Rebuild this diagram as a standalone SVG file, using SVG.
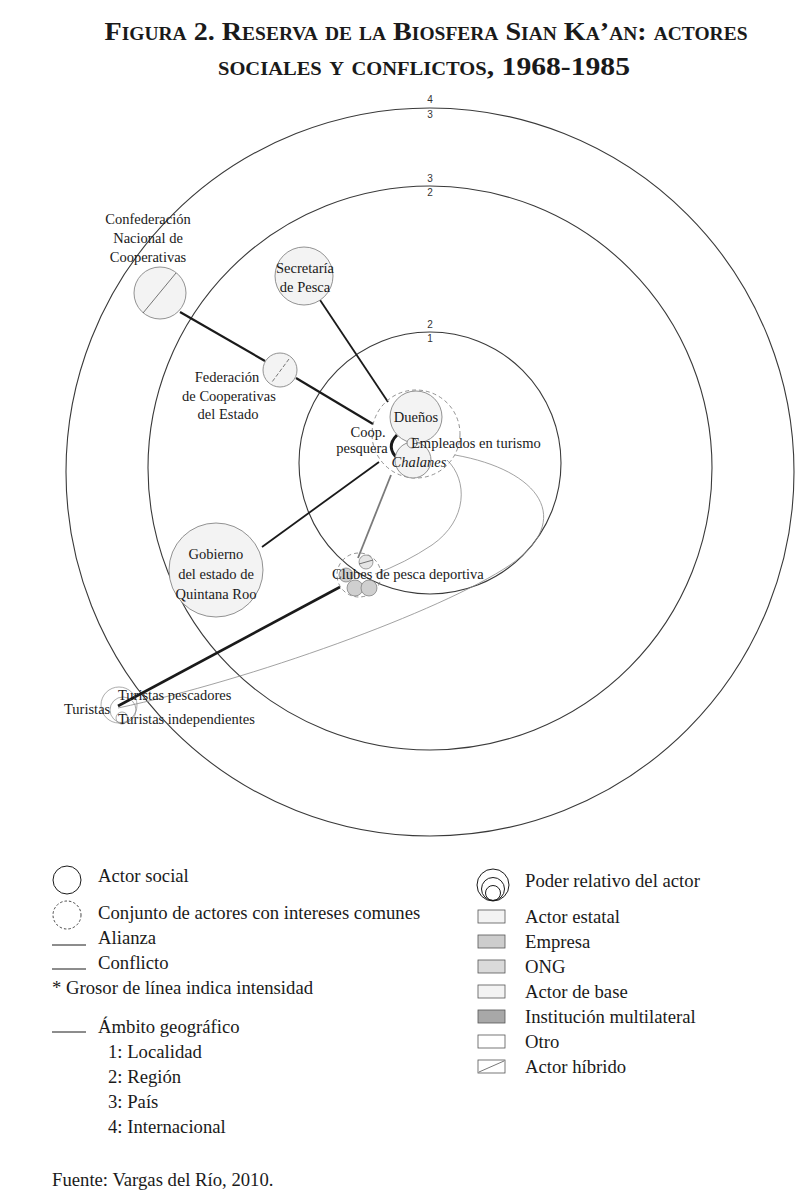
<svg xmlns="http://www.w3.org/2000/svg" width="811" height="1195" viewBox="0 0 811 1195">
<style>
 .t{font-family:"Liberation Serif","Times New Roman",serif;font-size:14.5px;fill:#1a1a1a}
 .c{text-anchor:middle}
 .lg{font-family:"Liberation Serif","Times New Roman",serif;font-size:18.7px;fill:#1a1a1a}
 .ttl{font-family:"Liberation Serif","Times New Roman",serif;font-size:26px;font-weight:bold;font-variant:small-caps;fill:#1a1a1a;text-anchor:middle}
 .ring{fill:none;stroke:#3a3a3a;stroke-width:1.1}
 .rn{font-family:"Liberation Sans",Arial,sans-serif;font-size:10px;fill:#333;text-anchor:middle}
 .node{fill:#f3f3f3;stroke:#777;stroke-width:0.8}
 .grp{fill:none;stroke:#777;stroke-width:0.8;stroke-dasharray:4 3}
 .hy{stroke:#555;stroke-width:0.8;fill:none}
 .thin{fill:none;stroke:#8a8a8a;stroke-width:0.8}
 .ln{stroke:#1a1a1a;fill:none}
 .sw{stroke:#1a1a1a;stroke-width:1}
</style>
<rect width="811" height="1195" fill="#ffffff"/>

<g id="title">
 <text class="ttl" x="426" y="40" textLength="643" lengthAdjust="spacingAndGlyphs">Figura 2. Reserva de la Biosfera Sian Ka’an: actores</text>
 <text class="ttl" x="424" y="75" textLength="412" lengthAdjust="spacingAndGlyphs">sociales y conflictos, 1968-1985</text>
</g>

<g id="rings">
 <circle class="ring" cx="430" cy="472" r="364"/>
 <circle class="ring" cx="430" cy="468" r="282"/>
 <circle class="ring" cx="430" cy="463" r="131"/>
 <text class="rn" x="430" y="103">4</text>
 <text class="rn" x="430" y="118">3</text>
 <text class="rn" x="430" y="182">3</text>
 <text class="rn" x="430" y="196">2</text>
 <text class="rn" x="430" y="328">2</text>
 <text class="rn" x="430" y="342">1</text>
</g>

<g id="connectors">
 <line class="ln" x1="180" y1="312" x2="265" y2="361" stroke-width="2.2"/>
 <line class="ln" x1="296" y1="378" x2="373" y2="424" stroke-width="2.2"/>
 <line class="ln" x1="320" y1="300" x2="388" y2="402" stroke-width="1.8"/>
 <line class="ln" x1="262" y1="547" x2="379" y2="462" stroke-width="1.8"/>
 <line class="ln" x1="118" y1="706" x2="340" y2="587" stroke-width="2.6"/>
 <line x1="391" y1="475" x2="358" y2="558" stroke="#7a7a7a" stroke-width="1.8"/>
 <path class="ln" d="M397,435 Q385,447 398,459" stroke-width="3"/>
 <path class="thin" d="M447,460 C468,480 468,520 432,545 Q405,563 375,574"/>
 <path class="thin" d="M455,455 C540,470 575,520 510,565 C440,612 250,680 118,708"/>
</g>

<g id="n-confederacion">
 <circle class="node" cx="160" cy="293" r="26"/>
 <line class="hy" x1="176" y1="273" x2="143" y2="313"/>
 <text class="t c" x="148" y="224">Confederación</text>
 <text class="t c" x="148" y="243">Nacional de</text>
 <text class="t c" x="148" y="262">Cooperativas</text>
</g>

<g id="n-secretaria">
 <circle class="node" cx="304" cy="276" r="29"/>
 <text class="t c" x="305" y="273">Secretaría</text>
 <text class="t c" x="305" y="292">de Pesca</text>
</g>

<g id="n-federacion">
 <circle class="node" cx="280" cy="370" r="17"/>
 <line class="hy" x1="289" y1="359" x2="272" y2="382" stroke-dasharray="4 2"/>
 <text class="t c" x="227" y="382">Federación</text>
 <text class="t c" x="229" y="401">de Cooperativas</text>
 <text class="t c" x="228" y="419">del Estado</text>
</g>

<g id="n-coop">
 <circle class="grp" cx="416" cy="434" r="44"/>
 <circle class="node" cx="416" cy="417" r="26"/>
 <circle class="node" cx="413" cy="460" r="18"/>
 <circle class="node" cx="412" cy="443" r="5"/>
 <text class="t c" x="416" y="422">Dueños</text>
 <text class="t c" x="419" y="467" font-style="italic">Chalanes</text>
 <text class="t" x="411" y="448">Empleados en turismo</text>
 <text class="t c" x="368" y="437">Coop.</text>
 <text class="t c" x="362" y="453">pesquera</text>
</g>

<g id="n-gobierno">
 <circle class="node" cx="216" cy="570" r="47"/>
 <text class="t c" x="216" y="559">Gobierno</text>
 <text class="t c" x="216" y="579">del estado de</text>
 <text class="t c" x="216" y="599">Quintana Roo</text>
</g>

<g id="n-clubes">
 <circle class="grp" cx="359" cy="575" r="22"/>
 <circle cx="346" cy="575" r="7" fill="#cfcfcf" stroke="#777" stroke-width="0.7"/>
 <circle cx="355" cy="588" r="8" fill="#cfcfcf" stroke="#777" stroke-width="0.7"/>
 <circle cx="369" cy="588" r="8" fill="#cfcfcf" stroke="#777" stroke-width="0.7"/>
 <circle cx="366" cy="562" r="7" fill="#e6e6e6" stroke="#777" stroke-width="0.7"/>
 <line class="hy" x1="359" y1="564" x2="373" y2="560"/>
 <text class="t" x="332" y="579">Clubes de pesca deportiva</text>
</g>

<g id="n-turistas">
 <circle cx="119" cy="705" r="18" fill="none" stroke="#888" stroke-width="0.7"/>
 <circle cx="123" cy="710" r="13" fill="none" stroke="#888" stroke-width="0.7"/>
 <circle cx="122" cy="718" r="6" fill="none" stroke="#888" stroke-width="0.7"/>
 <text class="t" x="64" y="714">Turistas</text>
 <text class="t" x="118" y="700">Turistas pescadores</text>
 <text class="t" x="118" y="724">Turistas independientes</text>
</g>

<g id="legend-left">
 <circle cx="67" cy="880" r="14" fill="none" stroke="#1a1a1a" stroke-width="1"/>
 <text class="lg" x="98" y="882">Actor social</text>
 <circle cx="67" cy="915" r="14" fill="none" stroke="#1a1a1a" stroke-width="0.8" stroke-dasharray="2.5 2"/>
 <text class="lg" x="98" y="919">Conjunto de actores con intereses comunes</text>
 <line class="sw" x1="52" y1="945" x2="86" y2="945"/>
 <text class="lg" x="98" y="944">Alianza</text>
 <line class="sw" x1="52" y1="969" x2="86" y2="969"/>
 <text class="lg" x="98" y="969">Conflicto</text>
 <text class="lg" x="52" y="994">* Grosor de línea indica intensidad</text>
 <line class="sw" x1="52" y1="1032" x2="86" y2="1032"/>
 <text class="lg" x="98" y="1033">Ámbito geográfico</text>
 <text class="lg" x="108" y="1058">1: Localidad</text>
 <text class="lg" x="108" y="1083">2: Región</text>
 <text class="lg" x="108" y="1108">3: País</text>
 <text class="lg" x="108" y="1133">4: Internacional</text>
</g>

<g id="legend-right">
 <circle cx="493" cy="885" r="16" fill="none" stroke="#1a1a1a" stroke-width="1"/>
 <circle cx="493" cy="889" r="11.5" fill="none" stroke="#1a1a1a" stroke-width="1"/>
 <circle cx="493" cy="893" r="7.5" fill="none" stroke="#1a1a1a" stroke-width="1"/>
 <text class="lg" x="525" y="887">Poder relativo del actor</text>
 <rect x="478" y="910" width="27" height="13" fill="#f3f3f3" stroke="#555" stroke-width="0.8"/>
 <text class="lg" x="525" y="923">Actor estatal</text>
 <rect x="478" y="935" width="27" height="13" fill="#cdcdcd" stroke="#555" stroke-width="0.8"/>
 <text class="lg" x="525" y="948">Empresa</text>
 <rect x="478" y="960" width="27" height="13" fill="#dadada" stroke="#555" stroke-width="0.8"/>
 <text class="lg" x="525" y="973" font-size="13">ONG</text>
 <rect x="478" y="985" width="27" height="13" fill="#f3f3f3" stroke="#555" stroke-width="0.8"/>
 <text class="lg" x="525" y="998">Actor de base</text>
 <rect x="478" y="1010" width="27" height="13" fill="#a8a8a8" stroke="#555" stroke-width="0.8"/>
 <text class="lg" x="525" y="1023">Institución multilateral</text>
 <rect x="478" y="1035" width="27" height="13" fill="#ffffff" stroke="#555" stroke-width="0.8"/>
 <text class="lg" x="525" y="1048">Otro</text>
 <rect x="478" y="1060" width="27" height="13" fill="#ffffff" stroke="#555" stroke-width="0.8"/>
 <line x1="479" y1="1072" x2="504" y2="1061" stroke="#555" stroke-width="0.8"/>
 <text class="lg" x="525" y="1073">Actor híbrido</text>
</g>

<g id="source">
 <text class="lg" x="52" y="1186">Fuente: Vargas del Río, 2010.</text>
</g>
</svg>
